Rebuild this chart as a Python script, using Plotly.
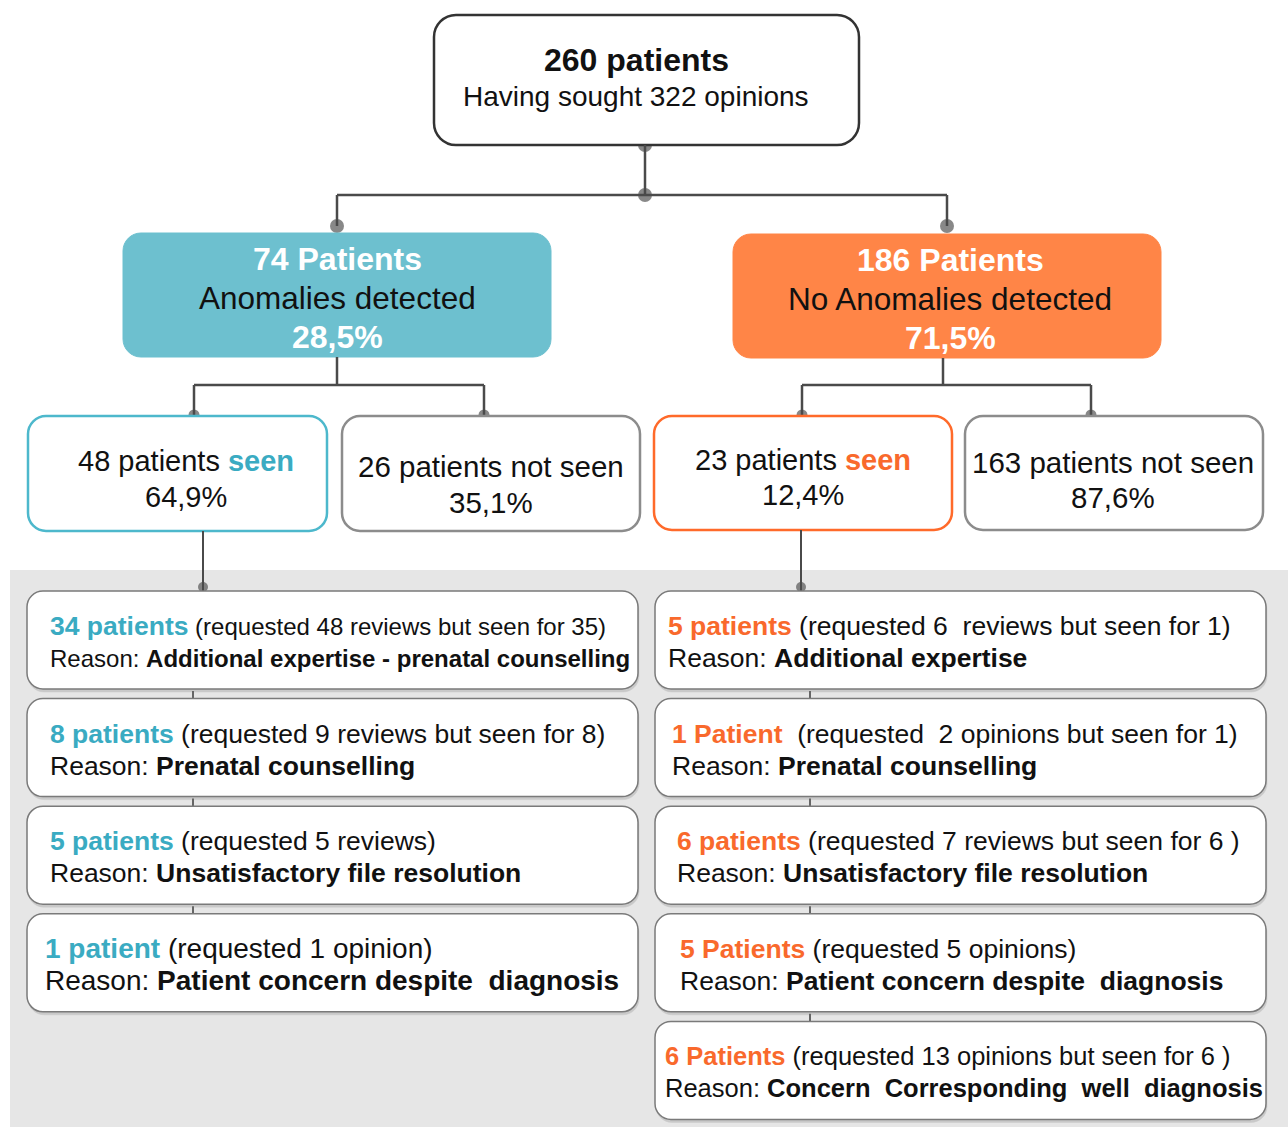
import plotly.graph_objects as go

# ---------------- data ----------------
total_patients = 260
total_opinions = 322

group_counts = [74, 186]
group_labels = ["Anomalies detected", "No Anomalies detected"]
group_pcts = ["28,5%", "71,5%"]

seen_counts = [48, 23]
seen_pcts = ["64,9%", "12,4%"]
notseen_counts = [26, 163]
notseen_pcts = ["35,1%", "87,6%"]

left_heads = ["34 patients", "8 patients", "5 patients", "1 patient"]
left_requests = ["(requested 48 reviews but seen for 35)",
                 "(requested 9 reviews but seen for 8)",
                 "(requested 5 reviews)",
                 "(requested 1 opinion)"]
left_reasons = ["Additional expertise - prenatal counselling",
                "Prenatal counselling",
                "Unsatisfactory file resolution",
                "Patient concern despite  diagnosis"]

right_heads = ["5 patients", "1 Patient", "6 patients", "5 Patients", "6 Patients"]
right_requests = ["(requested 6  reviews but seen for 1)",
                  " (requested  2 opinions but seen for 1)",
                  "(requested 7 reviews but seen for 6 )",
                  "(requested 5 opinions)",
                  "(requested 13 opinions but seen for 6 )"]
right_reasons = ["Additional expertise",
                 "Prenatal counselling",
                 "Unsatisfactory file resolution",
                 "Patient concern despite  diagnosis",
                 "Concern  Corresponding  well  diagnosis"]

# ---------------- style / layout ----------------
W, H = 1288, 1127
FONT = "Liberation Sans, Arial, sans-serif"
TEAL_FILL = "#6dc0cf"
ORANGE_FILL = "#ff8547"
TEAL_TXT = "#3aabc2"
ORANGE_TXT = "#f9692c"
TEAL_LINE = "#4db8cc"
ORANGE_LINE = "#ff6a2a"
GREY_LINE = "#8c8c8c"
CONN = "#4a4a4a"
DOT = "#555555"

side_fill = [TEAL_FILL, ORANGE_FILL]
side_txt = [TEAL_TXT, ORANGE_TXT]
side_line = [TEAL_LINE, ORANGE_LINE]

top_box = (434, 15, 859, 145)
group_boxes = [(123, 233, 551, 357), (733, 234, 1161, 358)]
group_text_x = [337, 950]
group_join_x = [337, 947]
group_stem_x = [337, 943]
seen_boxes = [(28, 416, 327, 531), (654, 416, 952, 530)]
seen_text = [(186, 461, 497), (803, 460, 495)]
notseen_boxes = [(342, 416, 640, 531), (965, 416, 1263, 530)]
notseen_text = [(491, 466, 502), (1113, 462, 497)]
branch_x = [(194, 484), (802, 1091)]
seen_stem_x = [203, 801]
stack_x = [(27, 638), (655, 1266)]
stack_text_x = [[48, 48, 48, 43], [666, 670, 675, 678, 663]]
stack_font = [[24, 26.5, 26.5, 28], [26.5, 26.5, 26.5, 26.5, 25.5]]
stack_head_font = [[26.5, 26.5, 26.5, 28], [26.5, 26.5, 26.5, 26.5, 25.5]]
stack_conn_x = [193, 810]
STACK_TOP, STACK_PITCH, STACK_H = 591, 107.6, 98

shapes = []
annotations = []
dots_x, dots_y, dots_s = [], [], []


def rr_path(x0, y0, x1, y1, r):
    k = 0.552 * r
    return (f"M{x0+r},{y0} L{x1-r},{y0} C{x1-r+k},{y0} {x1},{y0+r-k} {x1},{y0+r} "
            f"L{x1},{y1-r} C{x1},{y1-r+k} {x1-r+k},{y1} {x1-r},{y1} "
            f"L{x0+r},{y1} C{x0+r-k},{y1} {x0},{y1-r+k} {x0},{y1-r} "
            f"L{x0},{y0+r} C{x0},{y0+r-k} {x0+r-k},{y0} {x0+r},{y0} Z")


def rbox(b, r, fill, line, lw):
    shapes.append(dict(type="path", path=rr_path(*b, r), xref="x", yref="y",
                       fillcolor=fill, line=dict(color=line, width=lw), layer="above"))


def seg(x0, y0, x1, y1, w=2.5, color=CONN):
    shapes.append(dict(type="line", x0=x0, y0=y0, x1=x1, y1=y1, xref="x", yref="y",
                       line=dict(color=color, width=w), layer="above"))


def txt(x, y, s, size, color="#111111", anchor="center"):
    annotations.append(dict(x=x, y=y, xref="x", yref="y", text=s, showarrow=False,
                            xanchor=anchor, yanchor="middle",
                            font=dict(family=FONT, size=size, color=color)))


def sp(s):
    return s.replace("  ", " &nbsp;")


# grey background for the detail section
shapes.append(dict(type="rect", x0=10, y0=570, x1=W + 5, y1=H + 5, xref="x", yref="y",
                   fillcolor="#e6e6e6", line=dict(width=0), layer="below"))

# top box
rbox(top_box, 22, "white", "#333333", 2.5)
txt(636, 60, f"<b>{total_patients} patients</b>", 32)
txt(636, 96, f"Having sought {total_opinions} opinions", 28)

# connectors from top box
tcx = 645
seg(tcx, top_box[3], tcx, 195)
seg(group_join_x[0], 195, group_join_x[1], 195)
dots_x += [tcx, tcx]; dots_y += [top_box[3], 195]; dots_s += [14, 14]
for cx in group_join_x:
    seg(cx, 195, cx, 226)
    dots_x.append(cx); dots_y.append(226); dots_s.append(14)

for i in range(2):
    gb = group_boxes[i]
    rbox(gb, 18, side_fill[i], side_fill[i], 1)
    gx = group_text_x[i]
    txt(gx, gb[1] + 26, f"<b>{group_counts[i]} Patients</b>", 32, "white")
    txt(gx, gb[1] + 65, group_labels[i], 31.5, "#111111")
    txt(gx, gb[1] + 104, f"<b>{group_pcts[i]}</b>", 32, "white")

    # connectors group -> seen / not seen
    sb, nb = seen_boxes[i], notseen_boxes[i]
    xs, xn = branch_x[i]
    xc = group_stem_x[i]
    seg(xc, gb[3], xc, 385)
    seg(xs, 385, xn, 385)
    seg(xs, 385, xs, 415)
    seg(xn, 385, xn, 415)
    dots_x += [xs, xn]; dots_y += [415, 415]; dots_s += [11, 11]

    rbox(sb, 18, "white", side_line[i], 2.5)
    rbox(nb, 18, "white", GREY_LINE, 2.5)
    tx, y1, y2 = seen_text[i]
    txt(tx, y1, f"{seen_counts[i]} patients <b><span style='color:{side_txt[i]}'>seen</span></b>", 29)
    txt(tx, y2, seen_pcts[i], 29)
    tx, y1, y2 = notseen_text[i]
    txt(tx, y1, f"{notseen_counts[i]} patients not seen", 29.5)
    txt(tx, y2, notseen_pcts[i], 29.5)

    # seen -> stack
    lx = seen_stem_x[i]
    seg(lx, sb[3], lx, STACK_TOP, w=2)
    dots_x.append(lx); dots_y.append(587); dots_s.append(10)

# stacks
stacks = [(left_heads, left_requests, left_reasons),
          (right_heads, right_requests, right_reasons)]
for i, (heads, reqs, reasons) in enumerate(stacks):
    x0, x1 = stack_x[i]
    n = len(heads)
    for j in range(n):
        top = STACK_TOP + j * STACK_PITCH
        bot = top + STACK_H
        # soft shadow
        rbox((x0 + 1, top + 3, x1 + 1, bot + 3), 16, "#c9c9c9", "#c9c9c9", 0.5)
        rbox((x0, top, x1, bot), 16, "white", "#7a7a7a", 1.5)
        if j < n - 1:
            seg(stack_conn_x[i], bot + 2, stack_conn_x[i], top + STACK_PITCH, w=2, color="#666666")
        tx = stack_text_x[i][j]
        fs = stack_font[i][j]
        hs = stack_head_font[i][j]
        line1 = (f"<b><span style='color:{side_txt[i]};font-size:{hs}px'>{heads[j]}</span></b> "
                 f"{sp(reqs[j])}")
        line2 = f"Reason: <b>{sp(reasons[j])}</b>"
        txt(tx, top + 35, line1, fs, anchor="left")
        txt(tx, top + 67, line2, fs, anchor="left")

fig = go.Figure()
fig.add_trace(go.Scatter(x=dots_x, y=dots_y, mode="markers",
                         marker=dict(color=DOT, size=dots_s, line=dict(width=0)),
                         hoverinfo="skip", showlegend=False))
# small blue artifact dot seen in the original
fig.add_trace(go.Scatter(x=[1196], y=[418], mode="markers",
                         marker=dict(color="#2233cc", size=5),
                         hoverinfo="skip", showlegend=False))

fig.update_layout(
    width=W, height=H,
    margin=dict(l=0, r=0, t=0, b=0),
    paper_bgcolor="white", plot_bgcolor="white",
    xaxis=dict(range=[0, W], visible=False, fixedrange=True),
    yaxis=dict(range=[H, 0], visible=False, fixedrange=True),
    shapes=shapes, annotations=annotations, showlegend=False,
)
fig.write_html(
    "out.html",
    config={"displayModeBar": False},
    post_script="document.body.style.margin='0px';"
                "document.documentElement.style.overflow='hidden';"
                "document.body.style.overflow='hidden';",
)
